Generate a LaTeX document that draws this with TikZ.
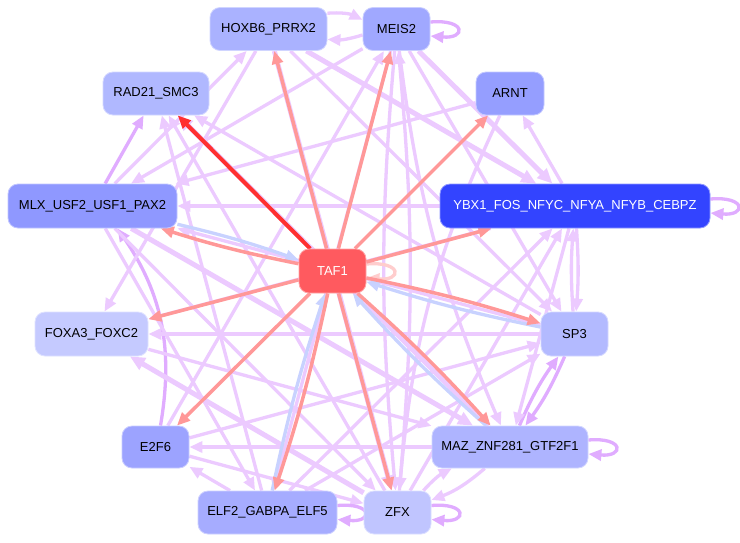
\documentclass[tikz,border=0pt]{standalone}
\usepackage{fontspec}
\setmainfont{Liberation Sans}
\usetikzlibrary{arrows.meta}
\pgfdeclarelayer{background}
\pgfdeclarelayer{canvas}
\pgfsetlayers{canvas,background,main}
\definecolor{cH}{RGB}{170,178,255}
\definecolor{cM}{RGB}{160,168,255}
\definecolor{cR}{RGB}{176,184,255}
\definecolor{cA}{RGB}{149,158,255}
\definecolor{cL}{RGB}{143,152,255}
\definecolor{cY}{RGB}{51,68,255}
\definecolor{cT}{RGB}{255,90,95}
\definecolor{cF}{RGB}{197,202,255}
\definecolor{cS}{RGB}{179,186,255}
\definecolor{cE}{RGB}{156,163,255}
\definecolor{cZ}{RGB}{174,180,255}
\definecolor{cG}{RGB}{166,172,255}
\definecolor{cX}{RGB}{192,197,255}
\definecolor{cPe}{RGB}{236,202,255}
\definecolor{cPd}{RGB}{224,172,255}
\definecolor{cRe}{RGB}{255,152,152}
\definecolor{cRb}{RGB}{255,48,48}
\definecolor{cBe}{RGB}{200,210,255}
\definecolor{cTl}{RGB}{255,205,205}
\begin{document}
\begin{tikzpicture}[x=1pt,y=-1pt,
  nd/.style={rounded corners=10pt, fill=#1, draw=#1!55!white, line width=0.8pt,
    font=\fontsize{13}{15}\selectfont, inner sep=0pt, minimum height=43pt},
  ar/.style={-{Triangle[length=13pt,width=11pt]}},
  pe/.style={ar, draw=cPe, line width=3.3pt},
  pt/.style={-{Triangle[length=15pt,width=13pt]}, draw=cPe, line width=5pt},
  pd/.style={ar, draw=cPd, line width=3.3pt},
  re/.style={ar, draw=cRe, line width=3.5pt},
  rb/.style={ar, draw=cRb, line width=4pt},
  be/.style={ar, draw=cBe, line width=3.3pt},
  lp/.style={ar, line width=3.3pt}
]
\useasboundingbox (0,0) rectangle (740,542);
\begin{pgfonlayer}{canvas}
\fill[white] (0,0) rectangle (740,542);
\end{pgfonlayer}

\node[nd=cH, minimum width=117pt] (H) at (268.5,29) {HOXB6\_PRRX2};
\node[nd=cM, minimum width=67pt] (M) at (396.5,29) {MEIS2};
\node[nd=cR, minimum width=106pt] (R) at (156,93.5) {RAD21\_SMC3};
\node[nd=cA, minimum width=68pt] (A) at (510,93.5) {ARNT};
\node[nd=cL, minimum width=169pt, minimum height=44pt] (L) at (92.5,206) {MLX\_USF2\_USF1\_PAX2};
\node[nd=cY, minimum width=270pt, minimum height=44pt, text=white] (Y) at (575,206) {YBX1\_FOS\_NFYC\_NFYA\_NFYB\_CEBPZ};
\node[nd=cT, minimum width=67pt, minimum height=44pt, text=white] (T) at (332.5,271) {TAF1};
\node[nd=cF, minimum width=113pt, minimum height=44pt] (F) at (91.5,334) {FOXA3\_FOXC2};
\node[nd=cS, minimum width=67pt, minimum height=44pt] (S) at (574.5,334) {SP3};
\node[nd=cE, minimum width=67pt, minimum height=42pt] (E) at (155.5,447) {E2F6};
\node[nd=cZ, minimum width=156pt, minimum height=42pt] (Z) at (510,447) {MAZ\_ZNF281\_GTF2F1};
\node[nd=cG, minimum width=139pt] (G) at (267.5,512.5) {ELF2\_GABPA\_ELF5};
\node[nd=cX, minimum width=67pt] (X) at (397.5,512.5) {ZFX};

\begin{pgfonlayer}{background}
% purple edges
\draw[pd] (L) -- (R);
\draw[pe] (H) to[bend left=15] (M);
\draw[pe] (M) to[bend left=10] (H);
\draw[pd] ([xshift=5pt]E.north) to[bend right=22] ([xshift=25pt]L.south);
\draw[pd] (S) to[bend left=6] (Z);
\draw[pd] (Z) to[bend left=6] (S);
\draw[pe] (Y) to[bend left=4] (S);
\draw[pe] (S) to[bend left=4] (Y);
\draw[pe] (Y) -- (A);
\draw[pt] (M) -- (Y);
\draw[pt] (H) -- (Y);
\draw[pe] (M) to[bend right=8] (Z);
\draw[pe] (M) to[bend right=5] (X);
\draw[pe] (X) to[bend right=5] (M);
\draw[pe] (M) -- (S);
\draw[pe] (A) -- (L);
\draw[pe] (M) -- (L);
\draw[pt] (H) -- (X);
\draw[pt] (L) -- (Z);
\draw[pe] (L) -- (X);
\draw[pt] (X) -- (F);
\draw[pe] (S) -- (F);
\draw[pe] (Y) -- (F);
\draw[pe] (Z) -- (E);
\draw[pe] (G) -- (E);
\draw[pe] (E) -- (S);
\draw[pe] (G) -- (S);
\draw[pe] (Y) -- (Z);
\draw[pe] (X) -- (Y);
\draw[pe] (G) -- (Y);
\draw[pe] (Z) to[bend left=10] (X);
\draw[pe] (X) to[bend left=10] (Z);
\draw[pe] (G) -- (R);
\draw[pe] (L) -- (H);
\draw[pe] (X) -- (R);
\draw[pe] (Y) -- (L);
\draw[pe] (S) -- (L);
\draw[pe] (S) -- (R);
\draw[pt] (Z) -- (R);
\draw[pe] (H) -- (F);
\draw[pe] (M) -- (G);
\draw[pe] (L) -- (G);
\draw[pe] (H) -- (S);
\draw[pe] (E) -- (X);
\draw[pe] (F) -- (Z);
\draw[pe] (E) -- (M);
\draw[pe] (A) to[bend right=10] (X);
% self loops
\draw[lp, draw=cPd] ([yshift=7pt]M.east) .. controls +(36pt,3pt) and +(36pt,-3pt) .. ([yshift=-7pt]M.east);
\draw[lp, draw=cPd] ([yshift=7pt]Y.east) .. controls +(36pt,3pt) and +(36pt,-3pt) .. ([yshift=-7pt]Y.east);
\draw[lp, draw=cPd] ([yshift=7pt]Z.east) .. controls +(36pt,3pt) and +(36pt,-3pt) .. ([yshift=-7pt]Z.east);
\draw[lp, draw=cPd] ([yshift=7pt]X.east) .. controls +(36pt,3pt) and +(36pt,-3pt) .. ([yshift=-7pt]X.east);
\draw[lp, draw=cPd] ([yshift=7pt]G.east) .. controls +(36pt,3pt) and +(36pt,-3pt) .. ([yshift=-7pt]G.east);
\draw[lp, draw=cTl] ([yshift=7pt]T.east) .. controls +(36pt,3pt) and +(36pt,-3pt) .. ([yshift=-7pt]T.east);
% blue edges
\draw[be] (L) to[bend left=3] (T);
\draw[be] (S) to[bend left=3] (T);
\draw[be] (Z) to[bend left=3] (T);
\draw[be] (G) to[bend left=3] (T);
% red edges
\draw[rb] (T) -- (R);
\draw[re] (T) -- (H);
\draw[re] (T) -- (M);
\draw[re] (T) -- (A);
\draw[re] (T) -- (Y);
\draw[re] (T) to[bend left=3] (L);
\draw[re] (T) -- (F);
\draw[re] (T) to[bend left=3] (S);
\draw[re] (T) to[bend left=3] (Z);
\draw[re] (T) -- (E);
\draw[re] (T) to[bend left=3] (G);
\draw[re] (T) -- (X);
\end{pgfonlayer}
\end{tikzpicture}
\end{document}
